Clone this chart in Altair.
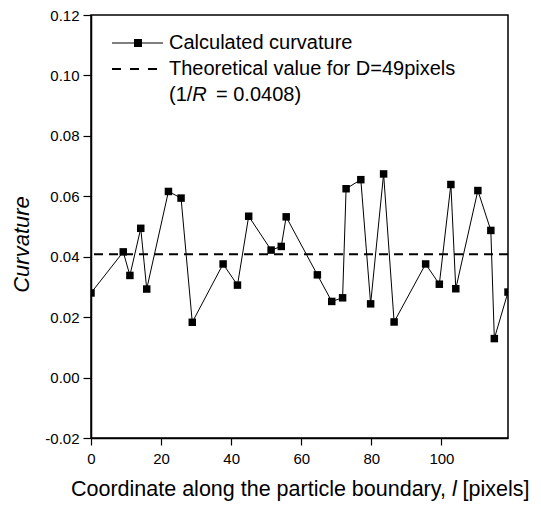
import altair as alt
import pandas as pd

# ---- data ----
l_vals = [0, 9.2, 11.1, 14.2, 15.9, 22.1, 25.7, 28.9, 37.7, 41.8, 45.0, 51.4, 54.3, 55.7,
          64.6, 68.7, 71.8, 72.8, 77.0, 79.8, 83.5, 86.5, 95.5, 99.4, 102.7, 104.1,
          110.4, 114.1, 115.1, 119.0]
k_vals = [0.0280, 0.0416, 0.0338, 0.0494, 0.0293, 0.0616, 0.0594, 0.0183, 0.0376, 0.0306,
          0.0534, 0.0422, 0.0434, 0.0532, 0.0340, 0.0252, 0.0264, 0.0625, 0.0655, 0.0244,
          0.0674, 0.0184, 0.0376, 0.0309, 0.0639, 0.0294, 0.0619, 0.0487, 0.0129, 0.0283]
theory_value = [0.0408]
x_ticks = [0, 10, 20, 30, 40, 50, 60, 70, 80, 90, 100, 110]
y_ticks = [-0.02, -0.01, 0.0, 0.01, 0.02, 0.03, 0.04, 0.05, 0.06, 0.07, 0.08, 0.09, 0.10, 0.11, 0.12]

FONT = "Liberation Sans, Arial, Helvetica, sans-serif"
W, H = 417, 423

df = pd.DataFrame({"l": l_vals, "k": k_vals})
one = pd.DataFrame({"a": [0]})

xs = alt.Scale(domain=[0, 119], nice=False, zero=False)
ys = alt.Scale(domain=[-0.02, 0.12], nice=False, zero=False)

xaxis = alt.Axis(
    values=x_ticks, title=None, grid=False,
    tickSize={"condition": {"test": "datum.value % 20 != 0", "value": 4}, "value": 7},
    labelExpr="datum.value % 20 == 0 ? datum.label : ''",
    labelOverlap=False, labelFlush=False, labelPadding=6, labelFontSize=15,
)
yaxis = alt.Axis(
    values=y_ticks, grid=False, title="Curvature",
    tickSize={"condition": {"test": "abs(round(datum.value * 100)) % 2 == 1", "value": 4}, "value": 8},
    labelExpr="abs(round(datum.value * 100)) % 2 == 1 ? '' : replace(format(datum.value, '.2f'), '\u2212', '-')",
    labelOverlap=False, labelFlush=False, labelPadding=4, labelFontSize=15,
    titleFontSize=22, titleFontStyle="italic", titleFontWeight="normal",
    titleAngle=-90, titleX=-63, titleY=229, titleAlign="center", titleBaseline="alphabetic",
)

line = alt.Chart(df).mark_line(color="black", strokeWidth=1, clip=True).encode(
    x=alt.X("l:Q", scale=xs, axis=xaxis),
    y=alt.Y("k:Q", scale=ys, axis=yaxis),
)
pts = alt.Chart(df).mark_square(size=56, color="black", opacity=1, clip=True).encode(
    x=alt.X("l:Q", scale=xs),
    y=alt.Y("k:Q", scale=ys),
)
theory = alt.Chart(pd.DataFrame({"t": theory_value})).mark_rule(
    color="black", strokeWidth=2, strokeDash=[9, 6]
).encode(y=alt.Y("t:Q", scale=ys))

# ---- legend (manual) ----
leg_line = alt.Chart(one).mark_rule(color="black", strokeWidth=1).encode(
    x=alt.value(21), x2=alt.value(72), y=alt.value(28))
leg_sq = alt.Chart(one).mark_square(size=64, color="black", opacity=1).encode(
    x=alt.value(47), y=alt.value(28))
leg_dash = alt.Chart(one).mark_rule(color="black", strokeWidth=2, strokeDash=[9, 9]).encode(
    x=alt.value(21), x2=alt.value(72), y=alt.value(54))


def txt(s, x, y, size=20, style="normal", align="left", baseline="middle"):
    return alt.Chart(one).mark_text(
        text=s, font=FONT, fontSize=size, fontStyle=style, align=align,
        baseline=baseline, color="black"
    ).encode(x=alt.value(x), y=alt.value(y))


leg_t1 = txt("Calculated curvature", 78, 28)
leg_t2 = txt("Theoretical value for D=49pixels", 78, 54)
leg_t3a = txt("(1/", 78, 80)
leg_t3b = txt("R", 101.3, 80, style="italic")
leg_t3c = txt("= 0.0408)", 125, 80)

# ---- x title with italic l ----
XS = 21.5
xt1 = txt("Coordinate along the particle boundary,", 354.9, 481, size=XS, align="right", baseline="alphabetic")
xt2 = txt("l", 360.9, 481, size=XS, style="italic", baseline="alphabetic")
xt3 = txt("[pixels]", 371.6, 481, size=XS, baseline="alphabetic")

chart = alt.layer(
    theory, line, pts,
    leg_line, leg_sq, leg_dash, leg_t1, leg_t2, leg_t3a, leg_t3b, leg_t3c,
    xt1, xt2, xt3,
).properties(
    width=W, height=H,
    autosize=alt.AutoSizeParams(type="none"),
    padding={"left": 83, "top": 7, "right": 25, "bottom": 66},
    background="white",
).configure_view(
    stroke="black", strokeWidth=1.5
).configure_axis(
    domainColor="black", domainWidth=1.5, tickColor="black", tickWidth=1.2,
    labelFont=FONT, labelColor="black", titleFont=FONT, titleColor="black",
)

chart.save("out.html", embed_options={"renderer": "svg", "actions": False})
